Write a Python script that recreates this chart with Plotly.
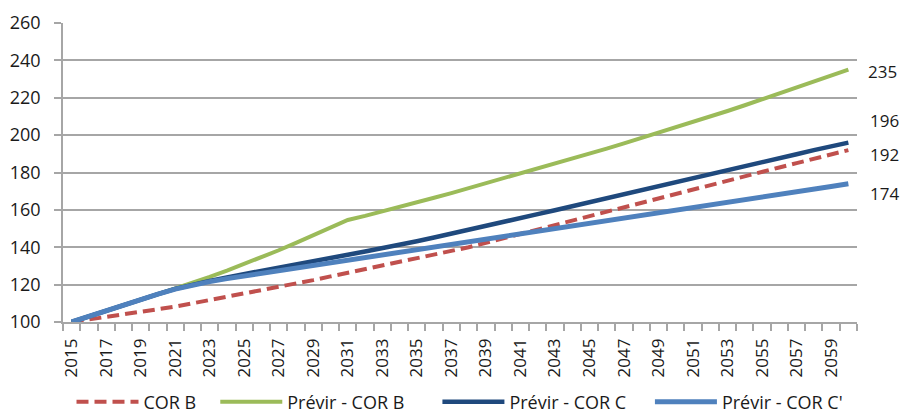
import plotly.graph_objects as go

# Index base 100 in 2015 — projections by scenario
YEARS = list(range(2015, 2061))

COR_B = [
    100.0, 101.3, 102.6, 103.9, 105.2, 106.5, 108.2, 110.0, 111.7, 113.5,
    115.2, 117.0, 118.7, 120.5, 122.4, 124.4, 126.3, 128.3, 130.2, 132.2,
    134.1, 136.1, 138.0, 140.0, 142.4, 144.8, 147.2, 149.6, 152.0, 154.4,
    156.8, 159.2, 161.5, 163.9, 166.2, 168.6, 170.9, 173.3, 175.6, 178.0,
    180.3, 182.7, 185.0, 187.4, 189.7, 192.0,
]

PREVIR_COR_B = [
    100.0, 103.1, 106.1, 109.1, 112.0, 114.9, 117.8, 120.9, 124.1, 127.5,
    131.0, 134.6, 138.4, 142.3, 146.4, 150.5, 154.6, 156.8, 159.1, 161.5,
    164.0, 166.5, 169.0, 171.6, 174.2, 176.8, 179.4, 182.0, 184.7, 187.4,
    190.1, 192.8, 195.6, 198.4, 201.2, 204.1, 207.0, 209.9, 212.9, 216.0,
    219.1, 222.2, 225.4, 228.6, 231.8, 235.0,
]

PREVIR_COR_C = [
    100.0, 103.1, 106.1, 109.1, 112.0, 114.9, 117.7, 120.0, 122.0, 123.9,
    125.7, 127.5, 129.2, 130.9, 132.6, 134.3, 136.0, 137.7, 139.4, 141.2,
    143.2, 145.2, 147.2, 149.3, 151.4, 153.5, 155.6, 157.7, 159.8, 161.9,
    164.0, 166.1, 168.2, 170.3, 172.4, 174.5, 176.6, 178.8, 181.0, 183.2,
    185.4, 187.6, 189.8, 192.0, 194.0, 196.0,
]

PREVIR_COR_C_PRIME = [
    100.0, 103.1, 106.1, 109.1, 112.0, 114.9, 117.6, 119.8, 121.6, 123.2,
    124.6, 125.9, 127.2, 128.5, 129.9, 131.3, 132.7, 134.1, 135.5, 136.9,
    138.3, 139.7, 141.1, 142.5, 143.9, 145.3, 146.7, 148.1, 149.5, 150.9,
    152.3, 153.7, 155.1, 156.5, 157.9, 159.3, 160.7, 162.1, 163.6, 165.1,
    166.6, 168.1, 169.6, 171.0, 172.5, 174.0,
]

SERIES_NAMES = ["COR B", "Prévir - COR B", "Prévir - COR C", "Prévir - COR C'"]
END_LABELS = ["192", "235", "196", "174"]

TICK_YEARS = YEARS[:-1:2]            # 2015, 2017, ..., 2059
TICK_TEXT = [str(y) for y in TICK_YEARS]
Y_TICKS = list(range(100, 261, 20))

TEXT = "#1a1a1a"
GRID = "#A6A6A6"
FONT = "Open Sans"
NBSP = "\u00a0"

styles = [
    dict(color="#C0504D", width=4, dash="12px,6px"),
    dict(color="#9BBB59", width=4),
    dict(color="#1F497D", width=4.5),
    dict(color="#4F81BD", width=5),
]
# extra blank room after each legend entry
legend_pad = [3, 6, 4, 0]
label_shift = [(20, -4), (18, -2), (20, 22), (20, -10)]

fig = go.Figure()
all_series = [COR_B, PREVIR_COR_B, PREVIR_COR_C, PREVIR_COR_C_PRIME]
for name, values, line, pad in zip(SERIES_NAMES, all_series, styles, legend_pad):
    fig.add_trace(go.Scatter(x=YEARS, y=values, name=name + NBSP * pad,
                             mode="lines", line=line, hoverinfo="skip"))

for values, text, (dx, dy) in zip(all_series, END_LABELS, label_shift):
    fig.add_annotation(x=YEARS[-1], y=values[-1], text=text, showarrow=False,
                       xanchor="left", yanchor="middle", xshift=dx, yshift=dy,
                       font=dict(family=FONT, size=17, color=TEXT))

fig.update_layout(
    width=904, height=414,
    margin=dict(l=63, r=47, t=23, b=92, autoexpand=False),
    paper_bgcolor="white", plot_bgcolor="white",
    font=dict(family=FONT, color=TEXT),
    showlegend=True,
    legend=dict(orientation="h", x=0.5, xanchor="center", y=-0.268,
                yanchor="middle", font=dict(family=FONT, size=18, color=TEXT),
                itemwidth=62, traceorder="normal", borderwidth=0,
                bgcolor="rgba(0,0,0,0)"),
)

fig.update_xaxes(
    type="linear", range=[YEARS[0] - 0.5, YEARS[-1] + 0.5],
    tickmode="array", tickvals=TICK_YEARS, ticktext=TICK_TEXT,
    tickangle=-90, ticks="", ticklabelstandoff=8, automargin=False,
    tickfont=dict(family=FONT, size=17, color=TEXT),
    showgrid=False, zeroline=False,
    showline=True, linecolor=GRID, linewidth=1.5,
    minor=dict(tickmode="array",
               tickvals=[y - 0.5 for y in YEARS] + [YEARS[-1] + 0.5],
               ticks="outside", ticklen=7, tickcolor=GRID, tickwidth=1.5,
               showgrid=False),
)

fig.update_yaxes(
    range=[100, 260], tickmode="array", tickvals=Y_TICKS,
    ticks="outside", ticklen=7, tickcolor=GRID, tickwidth=1.5,
    ticklabelstandoff=10, automargin=False,
    tickfont=dict(family=FONT, size=18, color=TEXT),
    showgrid=True, gridcolor=GRID, gridwidth=1.5, zeroline=False,
    showline=True, linecolor=GRID, linewidth=1.5,
)

fig.write_html("out.html")
